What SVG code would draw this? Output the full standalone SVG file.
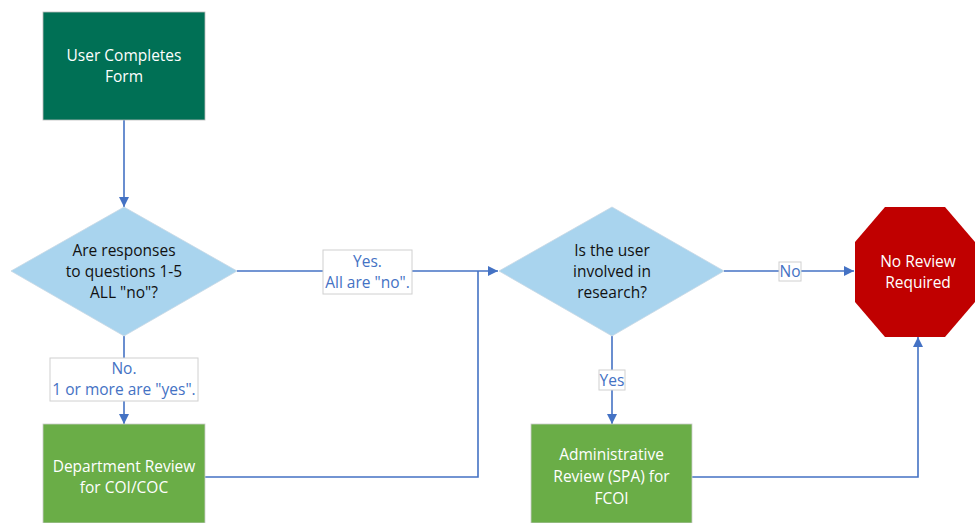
<svg xmlns="http://www.w3.org/2000/svg" width="975" height="523" viewBox="0 0 975 523">
<defs>
<marker id="arr" viewBox="0 0 10 10" refX="10" refY="5" markerWidth="10" markerHeight="10" markerUnits="userSpaceOnUse" orient="auto">
<path d="M0,0 L10,5 L0,10 z" fill="#4472C4"/>
</marker>
<style>
.t{font-family:"Open Sans","Liberation Sans",sans-serif;font-size:15.5px;text-anchor:middle}
.w{fill:#ffffff}
.k{fill:#111111}
.b{fill:#4472C4}
.c{fill:none;stroke:#4472C4;stroke-width:1.6}
.lb{fill:#ffffff;stroke:#d0d0d0;stroke-width:1}
</style>
</defs>
<rect width="975" height="523" fill="#ffffff"/>
<g id="connectors">
<path class="c" d="M124,120 L124,207" marker-end="url(#arr)"/>
<path class="c" d="M237,271 L498,271" marker-end="url(#arr)"/>
<path class="c" d="M124,336 L124,424" marker-end="url(#arr)"/>
<path class="c" d="M205,477 L478,477 L478,271"/>
<path class="c" d="M724,271 L854,271" marker-end="url(#arr)"/>
<path class="c" d="M612,336 L612,424" marker-end="url(#arr)"/>
<path class="c" d="M692,477 L918,477 L918,337" marker-end="url(#arr)"/>
<g id="label-yes1">
<rect class="lb" x="323" y="250" width="89" height="44"/>
<text class="t b" x="367.5" y="267">Yes.</text>
<text class="t b" x="367.5" y="288">All are "no".</text>
</g>
<g id="label-no1">
<rect class="lb" x="50" y="358" width="148" height="43"/>
<text class="t b" x="124" y="374">No.</text>
<text class="t b" x="124" y="395">1 or more are "yes".</text>
</g>
<g id="label-no2">
<rect class="lb" x="779" y="262" width="22" height="19"/>
<text class="t b" x="790" y="277">No</text>
</g>
<g id="label-yes2">
<rect class="lb" x="599" y="370" width="26" height="20"/>
<text class="t b" x="612" y="385.5">Yes</text>
</g>
</g>
<g id="user-completes-form">
<rect x="43" y="12" width="162" height="108" fill="#007055" stroke="#bbbbbb" stroke-width="0.8"/>
<text class="t w" x="124" y="61">User Completes</text>
<text class="t w" x="124" y="82">Form</text>
</g>
<g id="decision-responses">
<polygon points="124,207 237,271 124,336 11,271" fill="#A9D4EE" stroke="#c8d8e4" stroke-width="0.8"/>
<text class="t k" x="124" y="256">Are responses</text>
<text class="t k" x="124" y="277">to questions 1-5</text>
<text class="t k" x="124" y="298">ALL "no"?</text>
</g>
<g id="decision-research">
<polygon points="612,207 724,271 612,336 499,271" fill="#A9D4EE" stroke="#c8d8e4" stroke-width="0.8"/>
<text class="t k" x="612" y="256">Is the user</text>
<text class="t k" x="612" y="277">involved in</text>
<text class="t k" x="612" y="298">research?</text>
</g>
<g id="no-review-required">
<polygon points="885,207 945,207 975,242 975,302 945,337 885,337 855,302 855,242" fill="#C00000"/>
<text class="t w" x="918" y="267">No Review</text>
<text class="t w" x="918" y="288">Required</text>
</g>
<g id="department-review">
<rect x="43" y="424" width="162" height="99" fill="#6AAD47" stroke="#cccccc" stroke-width="0.8"/>
<text class="t w" x="124" y="472">Department Review</text>
<text class="t w" x="124" y="493">for COI/COC</text>
</g>
<g id="administrative-review">
<rect x="531" y="424" width="161" height="99" fill="#6AAD47" stroke="#cccccc" stroke-width="0.8"/>
<text class="t w" x="611.5" y="460">Administrative</text>
<text class="t w" x="611.5" y="482">Review (SPA) for</text>
<text class="t w" x="611.5" y="504">FCOI</text>
</g>
</svg>
